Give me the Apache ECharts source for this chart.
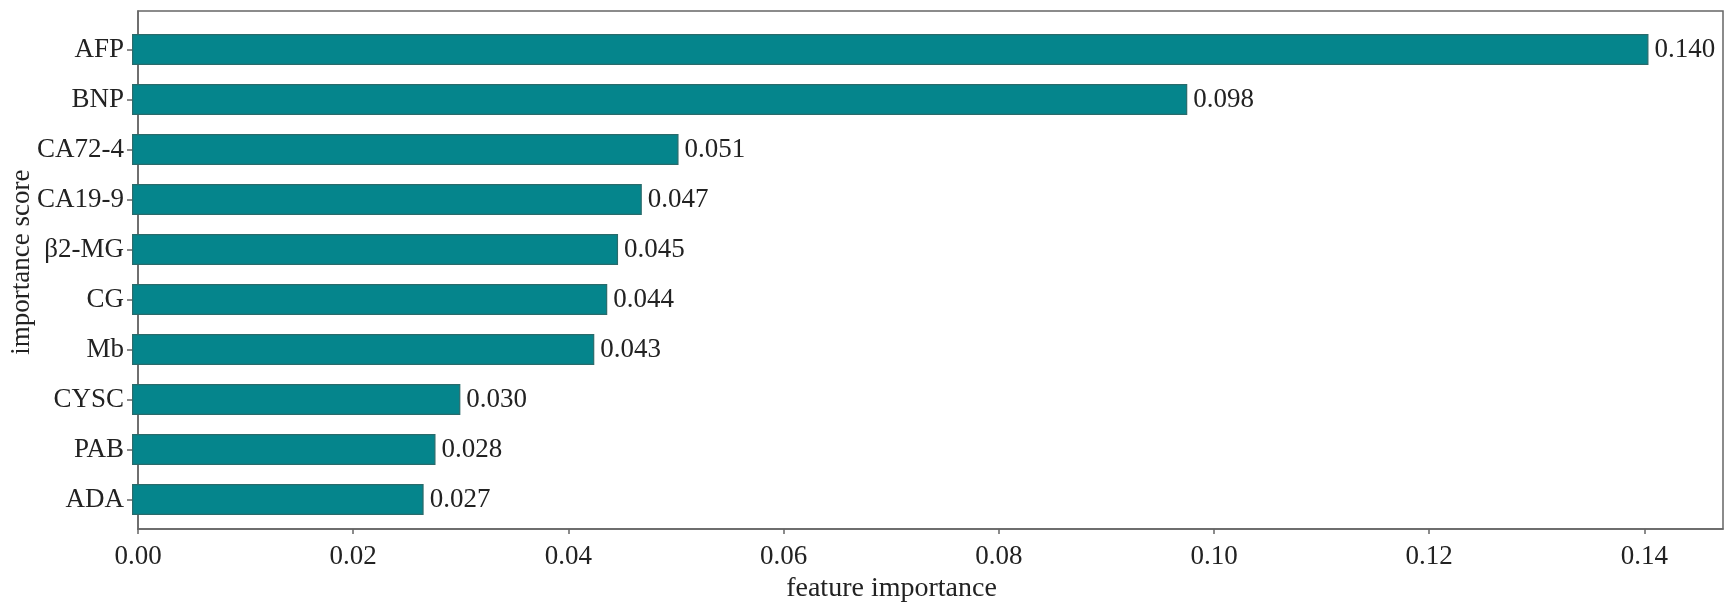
<!DOCTYPE html>
<html>
<head>
<meta charset="utf-8">
<script src="https://cdn.jsdelivr.net/npm/echarts@6/dist/echarts.min.js"></script>
<style>
html,body{margin:0;padding:0;background:#fff;}
#chart{width:1735px;height:608px;}
</style>
</head>
<body>
<div id="chart"></div>
<script>
var categories = ['AFP','BNP','CA72-4','CA19-9','\u03b22-MG','CG','Mb','CYSC','PAB','ADA'];
var importance = [0.1404, 0.0977, 0.0506, 0.0472, 0.0450, 0.0440, 0.0428, 0.0304, 0.0281, 0.0270];
var xTicks = [0, 0.02, 0.04, 0.06, 0.08, 0.10, 0.12, 0.14];

var FONT = '"Liberation Serif", "DejaVu Serif", serif';
var X_MAX = 0.1473;

var chart = echarts.init(document.getElementById('chart'));
chart.setOption({
  animation: false,
  backgroundColor: '#fff',
  grid: [
    { left: 132, right: 12, top: 11, bottom: 71,
      show: true, borderColor: '#666', borderWidth: 1.5, backgroundColor: 'transparent' },
    { left: 132, right: 12, top: 24.5, bottom: 83.5 }
  ],
  xAxis: [{
    gridIndex: 0,
    type: 'value',
    min: 0, max: X_MAX,
    name: 'feature importance',
    nameLocation: 'middle',
    nameGap: 40,
    nameTextStyle: { fontFamily: FONT, fontSize: 28, color: '#222', padding: [0, 78, 0, 0] },
    axisLine: { show: true, lineStyle: { color: '#666', width: 1.5 } },
    axisTick: { show: true, length: 5, customValues: xTicks, lineStyle: { color: '#666', width: 1.5 } },
    axisLabel: {
      fontFamily: FONT, fontSize: 27, color: '#222', margin: 14,
      customValues: xTicks,
      formatter: function(v){ return v.toFixed(2); }
    },
    splitLine: { show: false }
  }, {
    gridIndex: 1,
    type: 'value',
    min: 0, max: X_MAX,
    show: false
  }],
  yAxis: [{
    gridIndex: 0,
    type: 'value',
    min: 0, max: 1,
    name: 'importance score',
    nameLocation: 'middle',
    nameGap: 103,
    nameTextStyle: { fontFamily: FONT, fontSize: 27, color: '#222', padding: [0, 0, 0, 16] },
    axisLine: { show: true, lineStyle: { color: '#666', width: 1.5 } },
    axisTick: { show: false },
    axisLabel: { show: false },
    splitLine: { show: false }
  }, {
    gridIndex: 1,
    type: 'category',
    inverse: true,
    data: categories,
    axisLine: { show: false },
    axisTick: { show: true, alignWithLabel: true, length: 5, lineStyle: { color: '#666', width: 1.5 } },
    axisLabel: { fontFamily: FONT, fontSize: 27, color: '#222', margin: 8 },
    splitLine: { show: false }
  }],
  series: [{
    type: 'bar',
    xAxisIndex: 1,
    yAxisIndex: 1,
    barWidth: 31,
    data: importance,
    itemStyle: { color: '#05858c', borderColor: '#2a6b6b', borderWidth: 1.2 },
    label: {
      show: true, position: 'right', distance: 6,
      fontFamily: FONT, fontSize: 27, color: '#222',
      formatter: function(p){ return p.value.toFixed(3); }
    }
  }]
});
</script>
</body>
</html>
